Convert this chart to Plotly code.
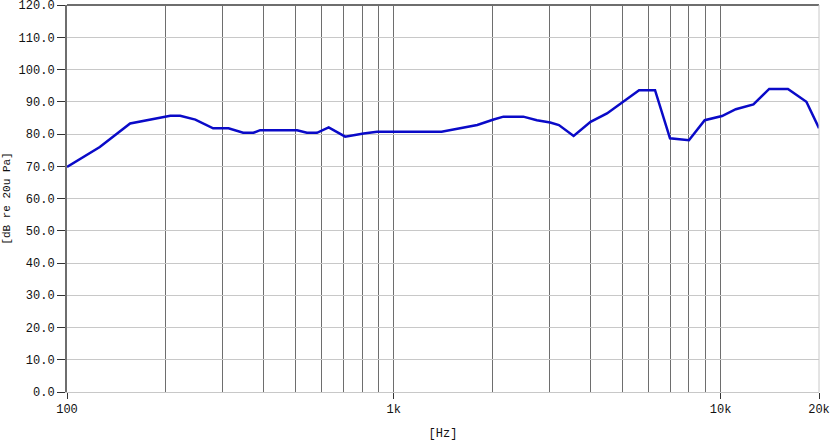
import plotly.graph_objects as go

freq_hz = [100, 126, 156, 192, 207, 222, 247, 280, 312, 346, 372, 390, 506, 542, 582, 632,
           710, 808, 889, 1400, 1800, 2020, 2165, 2490, 2740, 3010, 3200, 3550, 4000, 4490,
           4990, 5630, 6300, 7000, 8000, 8940, 10100, 11130, 12600, 14080, 16070, 18300, 20000]
level_db = [69.8, 76.0, 83.3, 84.9, 85.7, 85.7, 84.5, 81.8, 81.8, 80.4, 80.4, 81.2, 81.2, 80.4, 80.4, 82.1,
            79.2, 80.2, 80.7, 80.7, 82.8, 84.5, 85.4, 85.4, 84.3, 83.6, 82.8, 79.4, 83.8, 86.4,
            89.7, 93.6, 93.6, 78.7, 78.1, 84.3, 85.6, 87.7, 89.2, 94.0, 94.0, 90.0, 81.8]

x_tick_vals = [100, 1000, 10000, 20000]
x_tick_text = ["100", "1k", "10k", "20k"]
x_grid_vals = [200, 300, 400, 500, 600, 700, 800, 900, 1000,
               2000, 3000, 4000, 5000, 6000, 7000, 8000, 9000, 10000]
y_tick_vals = [0, 10, 20, 30, 40, 50, 60, 70, 80, 90, 100, 110, 120]

FONT = "Liberation Mono"
DARK = "#6e6e6e"
LIGHT = "#c8c8c8"

fig = go.Figure()
fig.add_trace(go.Scatter(x=freq_hz, y=level_db, mode="lines",
                         line=dict(color="#0a0ac8", width=2.5), showlegend=False))

fig.update_layout(
    width=830, height=443,
    margin=dict(l=67, r=11, t=5, b=51),
    paper_bgcolor="white", plot_bgcolor="white",
    font=dict(family=FONT, size=12, color="#111111"),
    xaxis=dict(
        type="log", range=[2, 4.30103], automargin=False,
        tickvals=x_tick_vals, ticktext=x_tick_text, ticklabeloverflow="allow",
        showgrid=False, zeroline=False,
        ticks="outside", ticklen=6, tickcolor="#333333", tickwidth=1,
        showline=True, linecolor=LIGHT, linewidth=1,
        minor=dict(tickvals=x_grid_vals, showgrid=True, gridcolor=DARK, gridwidth=1, ticklen=0),
        title=dict(text="[Hz]", font=dict(family=FONT, size=12), standoff=12),
        tickfont=dict(family=FONT, size=12),
    ),
    yaxis=dict(
        range=[0, 120.03], tickvals=y_tick_vals, tickformat=".1f", automargin=False,
        ticklabeloverflow="allow",
        showgrid=True, gridcolor=LIGHT, gridwidth=1, zeroline=False,
        ticks="outside", ticklen=8, tickcolor="#333333", tickwidth=1,
        showline=True, linecolor=DARK, linewidth=2,
        title=dict(text="[dB re 20u Pa]", font=dict(family=FONT, size=11), standoff=6),
        tickfont=dict(family=FONT, size=12),
    ),
    shapes=[
        dict(type="line", xref="paper", yref="paper", x0=0, x1=1, y0=1, y1=1,
             line=dict(color=DARK, width=2)),
        dict(type="line", xref="paper", yref="paper", x0=1, x1=1, y0=0, y1=1,
             line=dict(color=LIGHT, width=1)),
    ],
)

fig.write_html("out.html", config={"displayModeBar": False},
               post_script="document.body.style.margin='0';document.body.style.padding='0';")
